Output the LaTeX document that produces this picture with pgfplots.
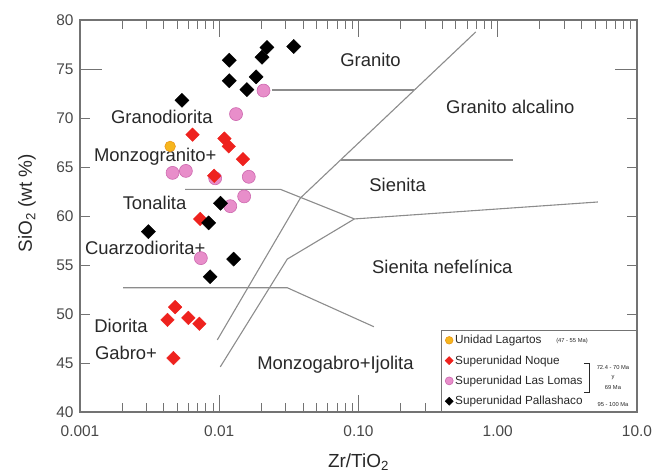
\documentclass[border=0pt]{standalone}
\usepackage{pgfplots}
\pgfplotsset{compat=1.18}
\usepackage{fontspec}
\setmainfont{Liberation Sans}
\usetikzlibrary{calc}
\definecolor{txt}{RGB}{40,40,40}
\definecolor{axgray}{RGB}{115,115,115}
\definecolor{bnd}{RGB}{140,140,140}
\definecolor{redd}{RGB}{238,34,30}
\definecolor{pinkf}{RGB}{232,142,202}
\definecolor{pinkd}{RGB}{205,105,175}
\definecolor{orgf}{RGB}{246,182,30}
\definecolor{orgd}{RGB}{235,150,20}
\pgfplotstableread{
x y
0.0208 72.8
0.0132 70.4
0.00462 64.4
0.00576 64.6
0.00935 63.85
0.0163 64.0
0.0151 62.0
0.0120 61.0
0.00738 55.7
}\lomas
\pgfplotstableread{
x y
0.00444 67.1
}\lagartos
\pgfplotstableread{
x y
0.00643 68.3
0.0109 67.9
0.0117 67.1
0.0148 65.8
0.0092 64.1
0.0073 59.7
0.00482 50.7
0.00425 49.4
0.0060 49.6
0.0072 49.0
0.00469 45.5
}\noque
\pgfplotstableread{
x y
0.0118 75.9
0.0118 73.8
0.0158 72.9
0.0184 74.2
0.0203 76.2
0.0220 77.2
0.0343 77.3
0.0054 71.8
0.0102 61.3
0.0084 59.3
0.0031 58.4
0.0127 55.6
0.0086 53.8
}\palla
\begin{document}
\begin{tikzpicture}
\begin{axis}[
  name=ax,
  scale only axis,
  width=557bp, height=392bp,
  xmode=log,
  xmin=0.001, xmax=10,
  ymin=40, ymax=80,
  tick align=inside,
  major tick length=0pt,
  minor tick length=0pt,
  axis line style={axgray, line width=1.2bp},
  xtick={0.001,0.01,0.1,1,10},
  xticklabels={0.001,0.01,0.10,1.00,10.0},
  ytick={40,45,...,80},
  /pgf/number format/assume math mode=true,
  ticklabel style={font=\fontsize{15.5}{18}\selectfont, text=txt!85!white},
  xticklabel style={yshift=-10bp},
  yticklabel style={xshift=-3bp},
  xlabel={Zr/TiO\textsubscript{2}},
  ylabel={SiO\textsubscript{2} (wt \%)},
  label style={font=\fontsize{19}{22}\selectfont, text=txt},
  xlabel style={at={(axis description cs:0.5,-0.128)}, anchor=center},
  ylabel style={at={(axis description cs:-0.095,0.533)}, anchor=center},
  clip=false,
  unbounded coords=jump,
  legend cell align=left,
  legend style={at={(rel axis cs:1,0)}, anchor=south east,
    draw=axgray, line width=0.6bp, fill=white,
    font=\fontsize{11.8}{13}\selectfont, text=txt,
    row sep=6.3bp, inner sep=3.5bp},
]
% ticks (x major, bottom and top)
\addplot[axgray, line width=0.8bp, forget plot] coordinates {
 (0.01,40) (0.01,41.73) (0.01,nan)
 (0.1,40) (0.1,41.73) (0.1,nan)
 (1,40) (1,41.73) (1,nan)
 (0.01,80) (0.01,78.27) (0.01,nan)
 (0.1,80) (0.1,78.27) (0.1,nan)
 (1,80) (1,78.27) (1,nan)
};
% ticks (x minor, bottom)
\addplot[axgray, line width=0.7bp, forget plot] coordinates {
 (0.002,40) (0.002,40.92) (0.002,nan) (0.003,40) (0.003,40.92) (0.003,nan)
 (0.004,40) (0.004,40.92) (0.004,nan) (0.005,40) (0.005,40.92) (0.005,nan)
 (0.006,40) (0.006,40.92) (0.006,nan) (0.007,40) (0.007,40.92) (0.007,nan)
 (0.008,40) (0.008,40.92) (0.008,nan) (0.009,40) (0.009,40.92) (0.009,nan)
 (0.02,40) (0.02,40.92) (0.02,nan) (0.03,40) (0.03,40.92) (0.03,nan)
 (0.04,40) (0.04,40.92) (0.04,nan) (0.05,40) (0.05,40.92) (0.05,nan)
 (0.06,40) (0.06,40.92) (0.06,nan) (0.07,40) (0.07,40.92) (0.07,nan)
 (0.08,40) (0.08,40.92) (0.08,nan) (0.09,40) (0.09,40.92) (0.09,nan)
 (0.2,40) (0.2,40.92) (0.2,nan) (0.3,40) (0.3,40.92) (0.3,nan)
 (0.4,40) (0.4,40.92) (0.4,nan) (0.5,40) (0.5,40.92) (0.5,nan)
 (0.6,40) (0.6,40.92) (0.6,nan) (0.7,40) (0.7,40.92) (0.7,nan)
 (0.8,40) (0.8,40.92) (0.8,nan) (0.9,40) (0.9,40.92) (0.9,nan)
 (2,40) (2,40.92) (2,nan) (3,40) (3,40.92) (3,nan)
 (4,40) (4,40.92) (4,nan) (5,40) (5,40.92) (5,nan)
 (6,40) (6,40.92) (6,nan) (7,40) (7,40.92) (7,nan)
 (8,40) (8,40.92) (8,nan) (9,40) (9,40.92) (9,nan)
};
% ticks (x minor, top)
\addplot[axgray, line width=0.7bp, forget plot] coordinates {
 (0.002,80) (0.002,79.08) (0.002,nan) (0.003,80) (0.003,79.08) (0.003,nan)
 (0.004,80) (0.004,79.08) (0.004,nan) (0.005,80) (0.005,79.08) (0.005,nan)
 (0.006,80) (0.006,79.08) (0.006,nan) (0.007,80) (0.007,79.08) (0.007,nan)
 (0.008,80) (0.008,79.08) (0.008,nan) (0.009,80) (0.009,79.08) (0.009,nan)
 (0.02,80) (0.02,79.08) (0.02,nan) (0.03,80) (0.03,79.08) (0.03,nan)
 (0.04,80) (0.04,79.08) (0.04,nan) (0.05,80) (0.05,79.08) (0.05,nan)
 (0.06,80) (0.06,79.08) (0.06,nan) (0.07,80) (0.07,79.08) (0.07,nan)
 (0.08,80) (0.08,79.08) (0.08,nan) (0.09,80) (0.09,79.08) (0.09,nan)
 (0.2,80) (0.2,79.08) (0.2,nan) (0.3,80) (0.3,79.08) (0.3,nan)
 (0.4,80) (0.4,79.08) (0.4,nan) (0.5,80) (0.5,79.08) (0.5,nan)
 (0.6,80) (0.6,79.08) (0.6,nan) (0.7,80) (0.7,79.08) (0.7,nan)
 (0.8,80) (0.8,79.08) (0.8,nan) (0.9,80) (0.9,79.08) (0.9,nan)
 (2,80) (2,79.08) (2,nan) (3,80) (3,79.08) (3,nan)
 (4,80) (4,79.08) (4,nan) (5,80) (5,79.08) (5,nan)
 (6,80) (6,79.08) (6,nan) (7,80) (7,79.08) (7,nan)
 (8,80) (8,79.08) (8,nan) (9,80) (9,79.08) (9,nan)
};
% ticks (y, left and right)
\addplot[axgray, line width=0.8bp, forget plot] coordinates {
 (0.001,45) (0.00118,45) (nan,45) (0.001,50) (0.00118,50) (nan,50)
 (0.001,55) (0.00118,55) (nan,55) (0.001,60) (0.00118,60) (nan,60)
 (0.001,65) (0.00118,65) (nan,65) (0.001,70) (0.00118,70) (nan,70)
 (0.001,75) (0.00144,75) (nan,75)
 (10,45) (8.47,45) (nan,45) (10,50) (8.47,50) (nan,50)
 (10,55) (8.47,55) (nan,55) (10,60) (8.47,60) (nan,60)
 (10,65) (8.47,65) (nan,65) (10,70) (8.47,70) (nan,70)
 (10,75) (6.94,75) (nan,75)
};
% boundaries
\addplot[bnd, line width=1.1bp, forget plot] coordinates {(0.00968,47.35) (0.0383,61.84) (0.695,78.78)};
\addplot[bnd, line width=1.1bp, forget plot] coordinates {(0.01017,44.6) (0.0308,55.6) (0.0935,59.7)};
\addplot[bnd, line width=1.1bp, forget plot] coordinates {(0.00569,62.72) (0.0275,62.72) (0.0935,59.7)};
\addplot[bnd, line width=1.1bp, forget plot] coordinates {(0.0935,59.7) (5.24,61.43)};
\addplot[bnd, line width=1.1bp, forget plot] coordinates {(0.0743,65.71) (1.28,65.71)};
\addplot[bnd, line width=1.1bp, forget plot] coordinates {(0.024,72.86) (0.252,72.86)};
\addplot[bnd, line width=1.1bp, forget plot] coordinates {(0.00204,52.68) (0.0308,52.68) (0.129,48.7)};
% region labels
\begin{scope}[every node/.style={font=\fontsize{18.5}{21}\selectfont, text=txt}]
\node at (axis cs:0.122,75.9) {Granito};
\node at (axis cs:1.23,71.09) {Granito alcalino};
\node at (axis cs:0.00387,70.07) {Granodiorita};
\node at (axis cs:0.00347,66.0) {Monzogranito+};
\node at (axis cs:0.00343,61.33) {Tonalita};
\node at (axis cs:0.00294,56.77) {Cuarzodiorita+};
\node at (axis cs:0.191,63.16) {Sienita};
\node at (axis cs:0.400,54.83) {Sienita nefelínica};
\node at (axis cs:0.00197,48.78) {Diorita};
\node at (axis cs:0.00214,45.99) {Gabro+};
\node at (axis cs:0.0684,44.8) {Monzogabro+Ijolita};
\end{scope}
% data
\addplot[only marks, mark=*, mark size=6.5bp, mark options={fill=pinkf, draw=pinkd, line width=0.6bp}, forget plot] table {\lomas};
\addplot[only marks, mark=*, mark size=5.3bp, mark options={fill=orgf, draw=orgd, line width=0.6bp}, forget plot] table {\lagartos};
\addplot[only marks, mark=square*, mark size=4.8bp, mark options={fill=redd, draw=redd, rotate=45}, forget plot] table {\noque};
\addplot[only marks, mark=square*, mark size=5bp, mark options={fill=black, draw=black, rotate=45}, forget plot] table {\palla};
% legend
\addlegendimage{only marks, mark=*, mark size=3.8bp, mark options={fill=orgf, draw=orgd}}
\addlegendentry{\makebox[176bp][l]{Unidad Lagartos}}
\addlegendimage{only marks, mark=square*, mark size=2.8bp, mark options={fill=redd, draw=redd, rotate=45}}
\addlegendentry{\makebox[176bp][l]{Superunidad Noque}}
\addlegendimage{only marks, mark=*, mark size=4bp, mark options={fill=pinkf, draw=pinkd}}
\addlegendentry{\makebox[176bp][l]{Superunidad Las Lomas}}
\addlegendimage{only marks, mark=square*, mark size=2.8bp, mark options={fill=black, draw=black, rotate=45}}
\addlegendentry{\makebox[176bp][l]{Superunidad Pallashaco}}
\end{axis}
% legend annotations
\begin{scope}[every node/.style={font=\fontsize{5.8}{6.5}\selectfont, text=txt, inner sep=0.5bp}]
\node at ($(ax.south west)+(492bp,71bp)$) {(47 - 55 Ma)};
\node at ($(ax.south west)+(533bp,44bp)$) {72.4 - 70 Ma};
\node at ($(ax.south west)+(533bp,34bp)$) {y};
\node at ($(ax.south west)+(533bp,24bp)$) {69 Ma};
\node at ($(ax.south west)+(533bp,7bp)$) {95 - 100 Ma};
\end{scope}
\draw[txt, line width=0.5bp] ($(ax.south west)+(504bp,49bp)$) -- ++(5bp,0) -- ++(0,-29bp) -- ++(-5bp,0);
\pgfresetboundingbox
\path ($(ax.south west)+(-80bp,-64bp)$) rectangle ($(ax.north east)+(21bp,20bp)$);
\end{tikzpicture}
\end{document}
